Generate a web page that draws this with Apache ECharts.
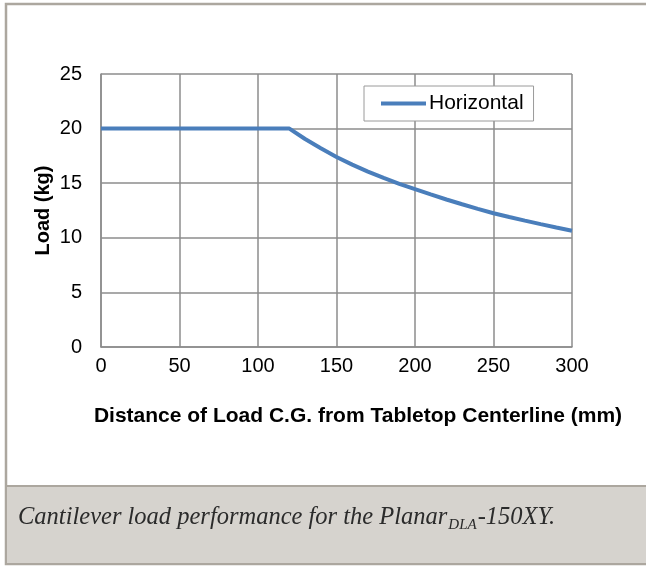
<!DOCTYPE html>
<html>
<head>
<meta charset="utf-8">
<script src="https://cdn.jsdelivr.net/npm/echarts@6/dist/echarts.min.js"></script>
<style>
  html, body { margin: 0; padding: 0; background: #fff; }
  #chart { width: 646px; height: 566px; }
</style>
</head>
<body>
<div id="chart"></div>
<script>
// distance of load C.G. (mm) and the load (kg)
const distance = [0, 120, 130, 140, 150, 160, 170, 180, 190, 200, 210, 220, 230, 240, 250, 260, 270, 280, 290, 300];
const load = [20, 20, 19.05, 18.2, 17.4, 16.7, 16.06, 15.48, 14.94, 14.45, 13.97, 13.51, 13.07, 12.65, 12.25, 11.9, 11.57, 11.25, 10.94, 10.65];
const seriesName = 'Horizontal';
const xTitle = 'Distance of Load C.G. from Tabletop Centerline (mm)';
const yTitle = 'Load (kg)';
const captionMain = 'Cantilever load performance for the Planar';
const captionSub = 'DLA';
const captionEnd = '-150XY.';

const chart = echarts.init(document.getElementById('chart'));

// measure caption pieces so the subscript sits right after "Planar"
const ctx = document.createElement('canvas').getContext('2d');
const capFont = 'italic 24.5px "Liberation Serif", "Times New Roman", serif';
const subFont = 'italic 15px "Liberation Serif", "Times New Roman", serif';
ctx.font = capFont;
const wMain = ctx.measureText(captionMain).width;
ctx.font = subFont;
const wSub = ctx.measureText(captionSub).width;
const capX = 18, capTop = 505;

const axisFont = '"Liberation Sans", Arial, sans-serif';

chart.setOption({
    animation: false,
    grid: { left: 101, right: 74, top: 74, bottom: 219, outerBoundsMode: 'none' },
    legend: {
        data: [{ name: seriesName, icon: 'rect' }],
        left: 364, top: 86,
        padding: [7, 10, 7, 17],
        itemWidth: 45, itemHeight: 4, itemGap: 4,
        backgroundColor: '#fff',
        borderColor: '#9a9a9a', borderWidth: 1,
        textStyle: { fontFamily: axisFont, fontSize: 21, color: '#000', padding: [0, 0, 0, -2] }
    },
    xAxis: {
        type: 'value', min: 0, max: 300, interval: 50,
        name: xTitle, nameLocation: 'middle', nameGap: 59, nameMoveOverlap: false,
        nameTextStyle: { fontFamily: axisFont, fontSize: 21, fontWeight: 'bold', color: '#000', padding: [0, 0, 0, 43] },
        axisLine: { show: true, lineStyle: { color: '#8c8c8c', width: 1.5 } },
        axisTick: { show: false },
        axisLabel: { fontFamily: axisFont, fontSize: 20, color: '#000', margin: 9 },
        splitLine: { show: true, lineStyle: { color: '#8c8c8c', width: 1.5 } }
    },
    yAxis: {
        type: 'value', min: 0, max: 25, interval: 5,
        name: yTitle, nameLocation: 'middle', nameGap: 48, nameMoveOverlap: false,
        nameTextStyle: { fontFamily: axisFont, fontSize: 20, fontWeight: 'bold', color: '#000' },
        axisLine: { show: true, lineStyle: { color: '#8c8c8c', width: 1.5 } },
        axisTick: { show: false },
        axisLabel: { fontFamily: axisFont, fontSize: 20, color: '#000', margin: 19 },
        splitLine: { show: true, lineStyle: { color: '#8c8c8c', width: 1.5 } }
    },
    series: [{
        name: seriesName,
        type: 'line',
        symbol: 'none',
        smooth: false,
        lineStyle: { color: '#4a7ebb', width: 4 },
        itemStyle: { color: '#4a7ebb' },
        data: distance.map((d, i) => [d, load[i]])
    }],
    graphic: [
        // frame round the figure
        { type: 'rect', z: -10, shape: { x: 6, y: 4, width: 660, height: 560 },
          style: { fill: '#fff', stroke: '#aca79f', lineWidth: 2.5 } },
        // caption band
        { type: 'rect', z: -5, shape: { x: 6, y: 486, width: 660, height: 78 },
          style: { fill: '#d6d3ce', stroke: '#aca79f', lineWidth: 2 } },
        { type: 'text', x: capX, y: capTop,
          style: { text: captionMain, font: capFont, fill: '#2b2b2b', verticalAlign: 'top' } },
        { type: 'text', x: capX + wMain + 1, y: capTop + 13,
          style: { text: captionSub, font: subFont, fill: '#2b2b2b', verticalAlign: 'top' } },
        { type: 'text', x: capX + wMain + wSub + 2, y: capTop,
          style: { text: captionEnd, font: capFont, fill: '#2b2b2b', verticalAlign: 'top' } }
    ]
});
</script>
</body>
</html>
